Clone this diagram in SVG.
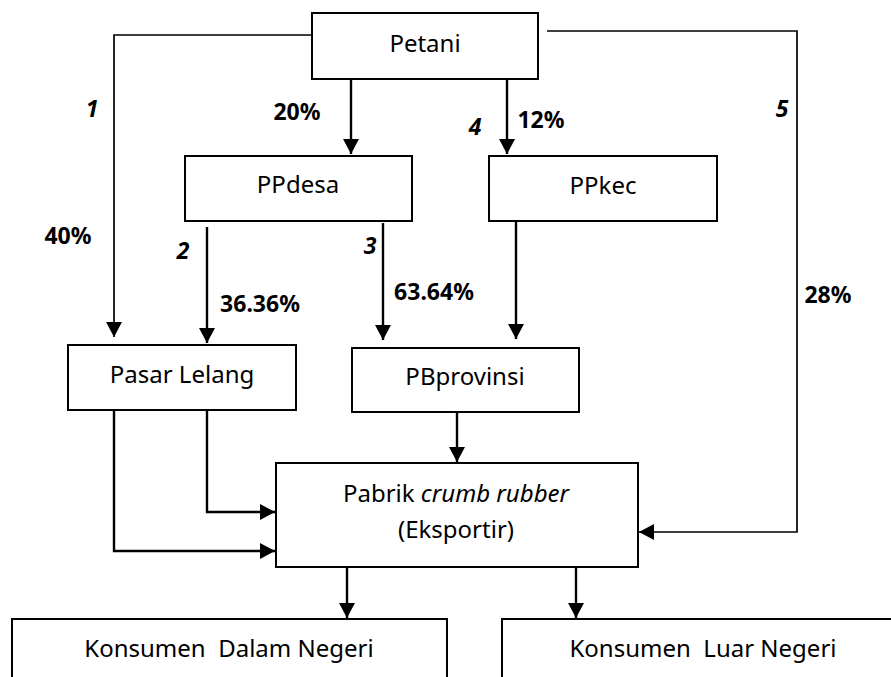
<svg xmlns="http://www.w3.org/2000/svg" width="891" height="677" viewBox="0 0 891 677">
<style>
.box{fill:#fff;stroke:#000;stroke-width:2}
.t{font-family:"Noto Sans","Open Sans",sans-serif;font-size:24px;fill:#000;text-anchor:middle}
.lb{font-family:"Noto Sans","Open Sans",sans-serif;font-size:23px;font-weight:bold;fill:#000;text-anchor:middle}
.n{font-family:"Noto Sans","Open Sans",sans-serif;font-size:23px;font-weight:bold;font-style:italic;fill:#000;text-anchor:middle}
.c{fill:none;stroke:#000;stroke-width:2.4}
.thin{stroke-width:1.7}
</style>
<defs>
<marker id="ah" markerUnits="userSpaceOnUse" markerWidth="16" markerHeight="16" refX="15" refY="8" orient="auto">
<path d="M0,0 L15,8 L0,16 z" fill="#000"/>
</marker>
</defs>
<rect width="891" height="677" fill="#fff"/>
<g id="connectors">
<polyline class="c thin" points="312,35 114,35 114,337" marker-end="url(#ah)"/>
<line class="c" x1="351" y1="79" x2="351" y2="154" marker-end="url(#ah)"/>
<line class="c" x1="507" y1="79" x2="507" y2="154" marker-end="url(#ah)"/>
<polyline class="c thin" points="547,31 797,31 797,532 639,532" marker-end="url(#ah)"/>
<line class="c" x1="207" y1="227" x2="207" y2="343" marker-end="url(#ah)"/>
<line class="c" x1="383" y1="223" x2="383" y2="340" marker-end="url(#ah)"/>
<line class="c" x1="516" y1="221" x2="516" y2="339" marker-end="url(#ah)"/>
<polyline class="c" points="207,410 207,512 275,512" marker-end="url(#ah)"/>
<polyline class="c" points="114,410 114,551 275,551" marker-end="url(#ah)"/>
<line class="c" x1="457" y1="412" x2="457" y2="462" marker-end="url(#ah)"/>
<line class="c" x1="347" y1="567" x2="347" y2="618" marker-end="url(#ah)"/>
<line class="c" x1="576" y1="567" x2="576" y2="618" marker-end="url(#ah)"/>
</g>
<g id="labels">
<text class="n" x="92" y="117">1</text>
<text class="lb" x="297" y="120">20%</text>
<text class="n" x="475" y="135">4</text>
<text class="lb" x="541" y="128">12%</text>
<text class="n" x="782" y="117">5</text>
<text class="lb" x="828" y="303">28%</text>
<text class="lb" x="68" y="244">40%</text>
<text class="n" x="183" y="259">2</text>
<text class="lb" x="260" y="312">36.36%</text>
<text class="n" x="370" y="254">3</text>
<text class="lb" x="434" y="300">63.64%</text>
</g>
<g id="petani">
<rect class="box" x="312" y="13" width="226" height="66"/>
<text class="t" x="425" y="52">Petani</text>
</g>
<g id="ppdesa">
<rect class="box" x="185" y="156" width="227" height="65"/>
<text class="t" x="298" y="193">PPdesa</text>
</g>
<g id="ppkec">
<rect class="box" x="489" y="156" width="228" height="65"/>
<text class="t" x="603" y="194">PPkec</text>
</g>
<g id="pasar-lelang">
<rect class="box" x="68" y="345" width="228" height="65"/>
<text class="t" x="182" y="383">Pasar Lelang</text>
</g>
<g id="pbprovinsi">
<rect class="box" x="352" y="348" width="227" height="64"/>
<text class="t" x="465" y="385">PBprovinsi</text>
</g>
<g id="pabrik">
<rect class="box" x="276" y="463" width="362" height="104"/>
<text class="t" x="456" y="502">Pabrik <tspan font-style="italic">crumb rubber</tspan></text>
<text class="t" x="456" y="538">(Eksportir)</text>
</g>
<g id="konsumen-dalam-negeri">
<rect class="box" x="12" y="619" width="435" height="80"/>
<text class="t" x="229" y="657" xml:space="preserve">Konsumen  Dalam Negeri</text>
</g>
<g id="konsumen-luar-negeri">
<rect class="box" x="502" y="619" width="400" height="80"/>
<text class="t" x="703" y="657" xml:space="preserve">Konsumen  Luar Negeri</text>
</g>
</svg>
